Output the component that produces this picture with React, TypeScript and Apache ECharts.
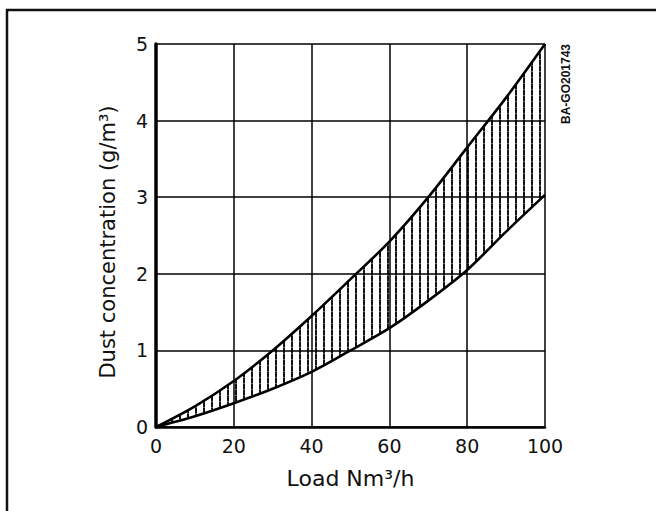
import React, { useEffect, useRef } from "react";
import * as echarts from "echarts";

const loadX = [0, 10, 20, 30, 40, 50, 60, 70, 80, 90, 100];
const upperConc = [0, 0.27, 0.6, 1.0, 1.45, 1.93, 2.42, 3.0, 3.65, 4.3, 5.0];
const lowerConc = [0, 0.14, 0.31, 0.5, 0.72, 1.0, 1.29, 1.65, 2.05, 2.55, 3.03];
const yTicks = [0, 1, 2, 3, 4, 5];
const xTitle = "Load Nm³/h";
const yTitle = "Dust concentration (g/m³)";
const docCode = "BA-GO201743";

function makeHatch(): HTMLCanvasElement {
  const c = document.createElement("canvas");
  c.width = 8;
  c.height = 6;
  const ctx = c.getContext("2d")!;
  ctx.fillStyle = "rgba(0,0,0,0.92)";
  ctx.fillRect(3, 0, 2, 5);
  ctx.fillStyle = "rgba(0,0,0,0.6)";
  ctx.fillRect(3, 5, 2, 1);
  return c;
}

export default function App() {
  const ref = useRef<HTMLDivElement>(null);
  useEffect(() => {
    if (!ref.current) return;
    const chart = echarts.init(ref.current, null, { renderer: "svg" });
    const bandData = upperConc.map((u, i) => +(u - lowerConc[i]).toFixed(4));
    const font = "DejaVu Sans";
    chart.setOption({
      animation: false,
      backgroundColor: "#fff",
      grid: { left: 156, top: 44, width: 389, height: 383, containLabel: false },
      xAxis: {
        type: "category",
        data: loadX.map(String),
        boundaryGap: false,
        name: xTitle,
        nameLocation: "middle",
        nameGap: 40,
        nameTextStyle: { fontFamily: font, fontSize: 22, color: "#111" },
        axisLine: { show: true, onZero: false, lineStyle: { color: "#000", width: 2.5 } },
        axisTick: { show: false },
        axisLabel: { interval: 1, fontFamily: font, fontSize: 19, color: "#111", margin: 9 },
        splitLine: { show: true, interval: 1, lineStyle: { color: "#000", width: 1.5 } },
      },
      yAxis: {
        type: "value",
        min: yTicks[0],
        max: yTicks[yTicks.length - 1],
        interval: yTicks[1] - yTicks[0],
        axisLine: { show: true, onZero: false, lineStyle: { color: "#000", width: 3.5 } },
        axisTick: { show: false },
        axisLabel: { fontFamily: font, fontSize: 19, color: "#111", margin: 8 },
        splitLine: { show: true, lineStyle: { color: "#000", width: 1.5 } },
      },
      graphic: [
        {
          type: "rect",
          shape: { x: 7, y: 10, width: 700, height: 600 },
          style: { fill: "none", stroke: "#111", lineWidth: 2.5 },
          silent: true,
        },
        {
          type: "text",
          x: 108,
          y: 242,
          rotation: Math.PI / 2,
          style: {
            text: yTitle,
            fontFamily: font,
            fontSize: 21,
            fill: "#111",
            align: "center",
            verticalAlign: "middle",
          },
        },
        {
          type: "text",
          x: 566,
          y: 84,
          rotation: Math.PI / 2,
          style: {
            text: docCode,
            fontFamily: "Liberation Sans",
            fontWeight: "bold",
            fontSize: 12,
            fill: "#111",
            align: "center",
            verticalAlign: "middle",
          },
        },
      ],
      series: [
        {
          type: "line",
          stack: "band",
          data: lowerConc,
          smooth: 0.3,
          symbol: "none",
          lineStyle: { color: "#000", width: 2.6 },
          z: 5,
        },
        {
          type: "line",
          stack: "band",
          data: bandData,
          smooth: 0.3,
          symbol: "none",
          lineStyle: { color: "#000", width: 2.6 },
          areaStyle: { color: { image: makeHatch(), repeat: "repeat" } as any, opacity: 1 },
          z: 5,
        },
      ],
    });
    return () => chart.dispose();
  }, []);
  return (
    <div
      ref={ref}
      style={{ position: "absolute", left: 0, top: 0, width: 656, height: 511, background: "#fff" }}
    />
  );
}
